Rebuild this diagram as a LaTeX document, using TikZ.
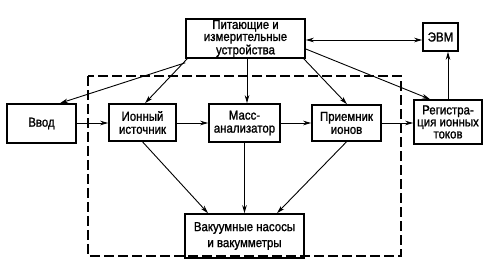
\documentclass[tikz,border=0pt]{standalone}
\usepackage{fontspec}
\setmainfont{Liberation Sans}[FakeStretch=0.88,FakeBold=1.2]
\usetikzlibrary{arrows.meta}
\begin{document}
\begin{tikzpicture}[x=1pt,y=-1pt,
  blk/.style={draw, line width=1.6pt, inner sep=0pt, align=center,
    font=\fontsize{13}{12}\selectfont},
  arr/.style={line width=0.9pt, -{Stealth[length=8pt,width=4.5pt,inset=2.5pt]}},
  darr/.style={line width=0.9pt, {Stealth[length=8pt,width=4.5pt,inset=2.5pt]}-{Stealth[length=8pt,width=4.5pt,inset=2.5pt]}},
  frame/.style={line width=1.2pt, dash pattern=on 10pt off 4pt}]
\useasboundingbox (0,0) rectangle (492,261);
\draw[frame] (88,76) rectangle (401,256);
\node[blk, minimum width=119pt, minimum height=39pt] (pit) at (245.5,38.5) {Питающие и\\измерительные\\устройства};
\node[blk, minimum width=35pt, minimum height=28pt] (evm) at (440.5,37) {ЭВМ};
\node[blk, minimum width=69pt, minimum height=39pt] (vvod) at (41.5,123.5) {Ввод};
\node[blk, minimum width=67pt, minimum height=37pt] (ion) at (142.5,122.5) {Ионный\\[1pt]источник};
\node[blk, minimum width=71pt, minimum height=38pt] (mass) at (244.5,123) {Масс-\\[1pt]анализатор};
\node[blk, minimum width=69pt, minimum height=36pt] (pri) at (346.5,123) {Приемник\\[1pt]ионов};
\node[blk, minimum width=68pt, minimum height=44pt] (reg) at (448,122) {Регистра-\\ция ионных\\токов};
\node[blk, minimum width=119pt, minimum height=44pt] (vak) at (244.5,236) {Вакуумные насосы\\[4pt]и вакумметры};
% top arrows
\draw[darr] (pit.east |- 0,40) -- (evm.west |- 0,40);
\draw[arr] ([yshift=-4pt]pit.south west) -- (vvod.north -| 60,0);
\draw[arr] ([xshift=2pt]pit.south west) -- (ion.north -| 145,0);
\draw[arr] (pit.south -| 247,0) -- (mass.north -| 247,0);
\draw[arr] ([xshift=-2pt]pit.south east) -- (pri.north -| 347,0);
\draw[arr] (pit.east |- 0,49) -- (reg.north -| 430,0);
% chain
\draw[arr] (vvod.east |- 0,123) -- (ion.west |- 0,123);
\draw[arr] (ion.east |- 0,123) -- (mass.west |- 0,123);
\draw[arr] (mass.east |- 0,123) -- (pri.west |- 0,123);
\draw[arr] (pri.east |- 0,123) -- (reg.west |- 0,123);
\draw[arr] (reg.north) -- (evm.south -| reg.north);
% down
\draw[arr] (ion.south) -- (vak.north -| 208,0);
\draw[arr] (mass.south) -- (vak.north -| mass.south);
\draw[arr] (pri.south) -- (vak.north -| 277,0);
\end{tikzpicture}
\end{document}
